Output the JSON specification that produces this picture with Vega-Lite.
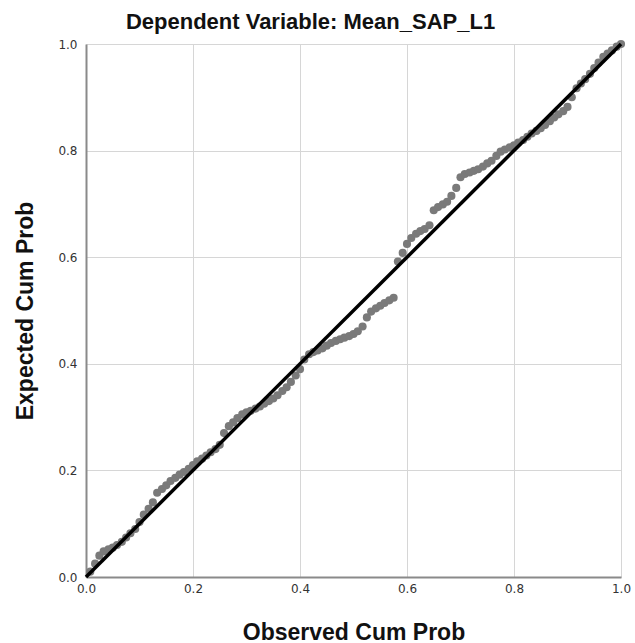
{
  "$schema": "https://vega.github.io/schema/vega-lite/v6.json",
  "autosize": "none",
  "width": 535,
  "height": 533,
  "padding": {"left": 86, "top": 44, "right": 14, "bottom": 66},
  "background": "white",
  "title": {
    "text": "Dependent Variable: Mean_SAP_L1",
    "font": "Liberation Sans",
    "fontSize": 22,
    "fontWeight": "bold",
    "color": "#111111",
    "anchor": "middle",
    "frame": "group",
    "dx": -43,
    "offset": 3
  },
  "config": {
    "view": {"stroke": null},
    "axis": {
      "labelFont": "DejaVu Sans",
      "labelFontSize": 12,
      "labelColor": "#333333",
      "titleFont": "Liberation Sans",
      "titleFontSize": 23,
      "titleFontWeight": "bold",
      "titleColor": "#111111",
      "gridColor": "#d6d6d6",
      "gridWidth": 1,
      "domainColor": "#8a8a8a",
      "domainWidth": 2,
      "ticks": false
    }
  },
  "datasets": {
    "pts": [
      {"obs":0.008,"exp":0.010},{"obs":0.017,"exp":0.025},{"obs":0.025,"exp":0.040},{"obs":0.033,"exp":0.048},
      {"obs":0.042,"exp":0.052},{"obs":0.050,"exp":0.055},{"obs":0.058,"exp":0.060},{"obs":0.067,"exp":0.066},
      {"obs":0.075,"exp":0.074},{"obs":0.083,"exp":0.082},{"obs":0.092,"exp":0.090},{"obs":0.100,"exp":0.103},
      {"obs":0.108,"exp":0.117},{"obs":0.117,"exp":0.128},{"obs":0.125,"exp":0.140},{"obs":0.133,"exp":0.158},
      {"obs":0.142,"exp":0.165},{"obs":0.150,"exp":0.172},{"obs":0.158,"exp":0.180},{"obs":0.167,"exp":0.186},
      {"obs":0.175,"exp":0.192},{"obs":0.183,"exp":0.197},{"obs":0.192,"exp":0.203},{"obs":0.200,"exp":0.210},
      {"obs":0.208,"exp":0.217},{"obs":0.217,"exp":0.222},{"obs":0.225,"exp":0.228},{"obs":0.233,"exp":0.234},
      {"obs":0.242,"exp":0.240},{"obs":0.250,"exp":0.248},{"obs":0.258,"exp":0.270},{"obs":0.267,"exp":0.283},
      {"obs":0.275,"exp":0.290},{"obs":0.283,"exp":0.298},{"obs":0.292,"exp":0.305},{"obs":0.300,"exp":0.309},
      {"obs":0.308,"exp":0.312},{"obs":0.317,"exp":0.316},{"obs":0.325,"exp":0.320},{"obs":0.333,"exp":0.325},
      {"obs":0.342,"exp":0.330},{"obs":0.350,"exp":0.335},{"obs":0.358,"exp":0.341},{"obs":0.367,"exp":0.349},
      {"obs":0.375,"exp":0.356},{"obs":0.383,"exp":0.366},{"obs":0.392,"exp":0.378},{"obs":0.400,"exp":0.390},
      {"obs":0.408,"exp":0.408},{"obs":0.417,"exp":0.418},{"obs":0.425,"exp":0.422},{"obs":0.433,"exp":0.425},
      {"obs":0.442,"exp":0.429},{"obs":0.450,"exp":0.434},{"obs":0.458,"exp":0.439},{"obs":0.467,"exp":0.443},
      {"obs":0.475,"exp":0.446},{"obs":0.483,"exp":0.449},{"obs":0.492,"exp":0.452},{"obs":0.500,"exp":0.456},
      {"obs":0.508,"exp":0.461},{"obs":0.517,"exp":0.470},{"obs":0.525,"exp":0.487},{"obs":0.533,"exp":0.498},
      {"obs":0.542,"exp":0.504},{"obs":0.550,"exp":0.509},{"obs":0.558,"exp":0.514},{"obs":0.567,"exp":0.519},
      {"obs":0.575,"exp":0.524},{"obs":0.583,"exp":0.592},{"obs":0.592,"exp":0.608},{"obs":0.600,"exp":0.625},
      {"obs":0.608,"exp":0.636},{"obs":0.617,"exp":0.644},{"obs":0.625,"exp":0.649},{"obs":0.633,"exp":0.653},
      {"obs":0.642,"exp":0.660},{"obs":0.650,"exp":0.688},{"obs":0.658,"exp":0.694},{"obs":0.667,"exp":0.699},
      {"obs":0.675,"exp":0.704},{"obs":0.683,"exp":0.715},{"obs":0.692,"exp":0.730},{"obs":0.700,"exp":0.750},
      {"obs":0.708,"exp":0.756},{"obs":0.717,"exp":0.759},{"obs":0.725,"exp":0.762},{"obs":0.733,"exp":0.765},
      {"obs":0.742,"exp":0.770},{"obs":0.750,"exp":0.776},{"obs":0.758,"exp":0.781},{"obs":0.767,"exp":0.790},
      {"obs":0.775,"exp":0.798},{"obs":0.783,"exp":0.802},{"obs":0.792,"exp":0.806},{"obs":0.800,"exp":0.810},
      {"obs":0.808,"exp":0.815},{"obs":0.817,"exp":0.820},{"obs":0.825,"exp":0.826},{"obs":0.833,"exp":0.832},
      {"obs":0.842,"exp":0.837},{"obs":0.850,"exp":0.842},{"obs":0.858,"exp":0.848},{"obs":0.867,"exp":0.855},
      {"obs":0.875,"exp":0.862},{"obs":0.883,"exp":0.868},{"obs":0.892,"exp":0.874},{"obs":0.900,"exp":0.882},
      {"obs":0.908,"exp":0.900},{"obs":0.917,"exp":0.917},{"obs":0.925,"exp":0.926},{"obs":0.933,"exp":0.934},
      {"obs":0.942,"exp":0.944},{"obs":0.950,"exp":0.955},{"obs":0.958,"exp":0.965},{"obs":0.967,"exp":0.976},
      {"obs":0.975,"exp":0.982},{"obs":0.983,"exp":0.988},{"obs":0.992,"exp":0.995},{"obs":1.000,"exp":1.000}
    ],
    "diag": [{"obs":0,"exp":0},{"obs":1,"exp":1}]
  },
  "layer": [
    {
      "data": {"name": "pts"},
      "mark": {"type": "circle", "size": 66, "color": "#7a7a7a", "opacity": 1},
      "encoding": {
        "x": {"field": "obs", "type": "quantitative", "scale": {"domain": [0, 1], "nice": false},
              "axis": {"title": "Observed Cum Prob", "values": [0,0.2,0.4,0.6,0.8,1.0], "format": ".1f", "labelPadding": 6, "titlePadding": 27, "labelFlush": false}},
        "y": {"field": "exp", "type": "quantitative", "scale": {"domain": [0, 1], "nice": false},
              "axis": {"title": "Expected Cum Prob", "values": [0,0.2,0.4,0.6,0.8,1.0], "format": ".1f", "labelPadding": 9, "titlePadding": 20, "labelFlush": false}}
      }
    },
    {
      "data": {"name": "diag"},
      "mark": {"type": "line", "color": "#000000", "strokeWidth": 3.5},
      "encoding": {
        "x": {"field": "obs", "type": "quantitative"},
        "y": {"field": "exp", "type": "quantitative"}
      }
    }
  ]
}
